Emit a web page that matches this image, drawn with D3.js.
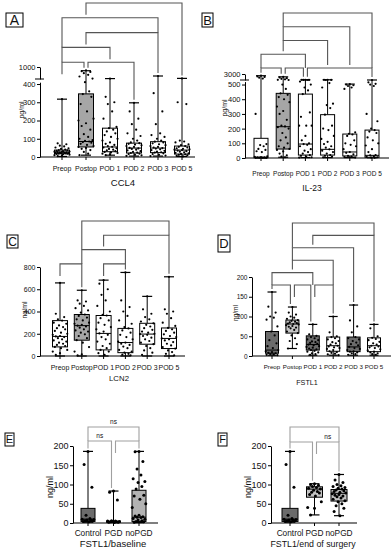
<!DOCTYPE html>
<html>
<head>
<meta charset="utf-8">
<script src="https://cdn.jsdelivr.net/npm/d3@7"></script>
<style>
  body { margin: 0; background: #fff; }
  svg text { font-family: "Liberation Sans", Arial, sans-serif; fill: #111; }
</style>
</head>
<body>
<svg id="fig" width="391" height="550"></svg>
<script>
// categories
const days = ["Preop", "Postop", "POD 1", "POD 2", "POD 3", "POD 5"];
const groups = ["Control", "PGD", "noPGD"];

// y tick labels
const ccl4Ticks = [0, 100, 200, 300, 400, 1000];
const il23Ticks = [0, 100, 200, 300, 400, 500, 3000];
const lcn2Ticks = [0, 200, 400, 600, 800];
const fstl1Ticks = [0, 50, 100, 150, 200];

// box stats per group: min, q1, median, q3, max
const ccl4Stats = [[3, 18, 27, 38, 317], [10, 55, 85, 346, 820], [10, 29, 55, 158, 440],
                   [5, 22, 49, 76, 297], [5, 24, 49, 84, 565], [3, 16, 38, 60, 450]];
const il23Stats = [[0, 2, 5, 134, 2290], [5, 61, 213, 440, 1830], [3, 20, 95, 435, 620],
                   [3, 20, 59, 295, 620], [3, 14, 41, 163, 503], [2, 5, 18, 190, 522]];
const lcn2Stats = [[0, 82, 176, 318, 657], [0, 142, 273, 373, 591], [0, 55, 203, 364, 682],
                   [0, 30, 121, 248, 751], [0, 106, 197, 294, 536], [0, 67, 158, 252, 712]];
const fstl1Stats = [[2, 7, 15, 62, 162], [19, 58, 81, 91, 124], [2, 15, 29, 51, 80],
                    [2, 12, 26, 48, 100], [2, 11, 23, 48, 129], [2, 11, 26, 46, 80]];
const baseStats = [[2, 4, 10, 38, 186], [1, 2, 3, 5, 83], [1, 4, 15, 85, 186]];
const endStats = [[2, 4, 10, 38, 186], [21, 67, 88, 94, 102], [19, 57, 77, 87, 126]];

// individual values
const ccl4Points = [
  [317, 75, 70, 62, 58, 52, 48, 44, 40, 38, 36, 34, 32, 30, 29, 28, 27, 26, 25, 24, 23, 22, 21, 20, 19, 18, 17, 15, 13, 10, 8, 5],
  [840, 800, 760, 700, 620, 540, 440, 410, 360, 345, 330, 290, 250, 210, 200, 185, 170, 150, 125, 110, 100, 92, 88, 85, 82, 78, 72, 66, 60, 55, 50, 45, 38, 28, 18, 10],
  [440, 330, 300, 290, 250, 210, 165, 158, 150, 140, 130, 120, 110, 100, 90, 80, 72, 66, 60, 56, 52, 48, 44, 40, 36, 32, 28, 25, 22, 18, 14, 10],
  [297, 250, 210, 180, 150, 130, 115, 100, 90, 80, 76, 72, 68, 64, 60, 55, 50, 47, 44, 40, 36, 32, 28, 24, 22, 19, 16, 12, 9, 6],
  [565, 350, 250, 180, 130, 120, 110, 100, 90, 84, 80, 75, 70, 65, 60, 55, 52, 49, 46, 42, 38, 34, 30, 26, 24, 20, 16, 12, 8, 5],
  [450, 300, 290, 90, 85, 80, 70, 65, 60, 56, 52, 48, 45, 42, 40, 38, 35, 32, 29, 26, 23, 20, 17, 15, 12, 9, 6, 3]
];
const il23Points = [
  [2290, 2000, 1800, 1500, 1100, 300, 95, 88, 80, 62, 55, 46, 40, 12, 8, 6, 5, 4, 3, 2, 1, 0],
  [1830, 1600, 1300, 1000, 800, 600, 540, 500, 470, 440, 430, 415, 400, 380, 350, 320, 300, 260, 220, 215, 210, 200, 170, 140, 120, 100, 80, 70, 62, 55, 45, 30, 18, 10, 5],
  [620, 600, 580, 560, 540, 520, 500, 480, 460, 435, 310, 280, 220, 220, 220, 150, 120, 100, 95, 90, 80, 60, 50, 40, 30, 20, 15, 10, 5, 3],
  [620, 600, 570, 540, 510, 480, 370, 360, 340, 295, 220, 200, 190, 150, 130, 110, 95, 80, 70, 59, 50, 40, 30, 20, 15, 10, 5],
  [503, 500, 495, 490, 480, 470, 175, 165, 160, 150, 120, 100, 90, 80, 60, 41, 35, 25, 14, 10, 6, 3],
  [522, 515, 505, 500, 490, 300, 250, 200, 190, 180, 170, 140, 120, 100, 85, 60, 40, 20, 18, 12, 8, 5, 3, 2]
];
const lcn2Points = [
  [657, 380, 350, 330, 318, 300, 290, 275, 260, 250, 240, 225, 210, 200, 190, 180, 176, 170, 160, 150, 140, 130, 120, 110, 100, 90, 82, 70, 55, 40, 25, 10],
  [591, 500, 490, 470, 450, 430, 410, 390, 373, 360, 345, 330, 320, 300, 290, 280, 273, 265, 255, 240, 230, 220, 210, 195, 180, 160, 142, 120, 80, 40, 15, 5],
  [682, 650, 600, 550, 500, 450, 400, 370, 364, 340, 320, 300, 280, 260, 240, 220, 203, 190, 170, 150, 130, 110, 90, 70, 55, 40, 25, 10],
  [751, 500, 440, 400, 360, 320, 290, 260, 248, 230, 210, 190, 170, 150, 130, 121, 110, 100, 85, 70, 55, 40, 30, 20, 12, 5],
  [536, 420, 380, 350, 330, 310, 294, 280, 265, 250, 235, 220, 210, 200, 197, 190, 180, 165, 150, 135, 120, 106, 90, 70, 50, 30, 10],
  [712, 420, 400, 380, 340, 300, 270, 252, 240, 225, 210, 195, 180, 170, 158, 150, 140, 125, 110, 95, 80, 67, 50, 35, 20, 5]
];
const fstl1Points = [
  [162, 125, 110, 100, 97, 92, 75, 62, 52, 40, 32, 25, 20, 15, 12, 10, 8, 7, 5, 4, 3, 2],
  [124, 110, 105, 100, 97, 94, 91, 89, 87, 85, 83, 82, 81, 80, 78, 76, 74, 72, 70, 66, 62, 58, 52, 45, 38, 30, 19],
  [80, 55, 51, 48, 45, 42, 40, 37, 35, 33, 31, 29, 27, 25, 23, 21, 19, 17, 15, 13, 11, 9, 7, 5, 3],
  [100, 60, 50, 48, 45, 42, 38, 35, 32, 29, 26, 24, 22, 20, 18, 15, 12, 10, 8, 6, 4, 2],
  [129, 90, 75, 60, 48, 45, 42, 38, 34, 30, 27, 23, 20, 18, 15, 12, 11, 9, 7, 5, 3],
  [80, 70, 50, 46, 43, 40, 36, 32, 29, 26, 24, 22, 20, 17, 14, 11, 9, 7, 5, 3]
];
const basePoints = [
  [186, 152, 93, 20, 12, 10, 9, 8, 7, 6, 5, 4, 3],
  [83, 80, 60, 6, 5, 5, 4, 4, 3, 3, 2, 2, 1],
  [186, 185, 160, 140, 125, 115, 108, 105, 95, 88, 72, 70, 62, 50, 40, 20, 18, 16, 15, 14, 12, 10, 8, 6, 4, 3, 2]
];
const endPoints = [
  [186, 152, 93, 20, 12, 10, 9, 8, 7, 6, 5, 4, 3],
  [102, 100, 98, 95, 92, 90, 88, 85, 82, 80, 78, 74, 70, 55, 40, 38, 21],
  [126, 112, 105, 100, 97, 95, 92, 90, 88, 86, 84, 82, 80, 78, 76, 74, 72, 70, 68, 65, 62, 58, 55, 50, 45, 38, 30, 19]
];

// comparison brackets, one list per row from top: [from, to, label]
const ccl4Brackets = [[[1, 5]], [[0, 4]], [[1, 4]], [[0, 2]], [[0, 1], [1, 3]]];
const il23Brackets = [[[1, 5]], [[1, 4]], [[1, 3]], [[0, 2]], [[0, 1], [1, 2], [2, 5]]];
const lcn2Brackets = [[[1, 5]], [[2, 5]], [[1, 3]], [[0, 1], [2, 3]]];
const fstl1Brackets = [[[1, 5]], [[2, 5]], [[1, 4]], [[1, 3]], [[0, 2]], [[0, 1], [1, 2], [2, 3]]];
const baseBrackets = [[[0, 2, "ns"]], [[0, 1, "ns"], [1, 2]]];
const endBrackets = [[[0, 2]], [[0, 1], [1, 2, "ns"]]];

var svg = d3.select("#fig");
var W = "#fff", G = "#a6a6a6", DK = "#6b6b6b", LG = "#c4c4c4";

var panels = [
  { letter: "A", title: "CCL4", unit: "pg/ml", cats: days, stats: ccl4Stats, pts: ccl4Points,
    brackets: ccl4Brackets, ticks: ccl4Ticks, fills: [W, G, W, W, W, W],
    ax: 40, axEnd: 195, c0: 62, c1: 182,
    low: [[0, 410], [157, 82.2]], high: [[420, 1000], [79, 67]],
    tickFont: 7.5, catFont: 7, catY: 170.5, title_: [123, 185.5, 9.5], unit_: [22, 110, 7],
    box: [6, 13, 17, 14, 14], br: [3, 14.8, "#555"], boxW: 15, capW: 10, r: 1.1, sp: 1.35 },
  { letter: "B", title: "IL-23", unit: "pg/ml", cats: days, stats: il23Stats, pts: il23Points,
    brackets: il23Brackets, ticks: il23Ticks, fills: [W, G, W, W, W, W],
    ax: 245, axEnd: 389, c0: 261, c1: 372,
    low: [[0, 520], [158, 81.6]], high: [[530, 3000], [80, 74]],
    tickFont: 7.5, catFont: 6.5, catY: 175.5, title_: [312, 190.5, 8.5], unit_: [225, 108, 7],
    box: [202, 13, 11, 14, 13], br: [13, 13.75, "#555"], boxW: 14, capW: 10, r: 1.1, sp: 1.2 },
  { letter: "C", title: "LCN2", unit: "ng/ml", cats: days, stats: lcn2Stats, pts: lcn2Points,
    brackets: lcn2Brackets, ticks: lcn2Ticks, fills: [W, G, W, W, W, W],
    ax: 40, axEnd: 185, c0: 60, c1: 169,
    low: [[0, 800], [356, 267]], high: null,
    tickFont: 7, catFont: 7, catY: 369.5, title_: [119, 381, 7.8], unit_: [25, 310, 7],
    box: [7, 235, 11, 13, 12], br: [221, 14.3, "#555"], boxW: 15, capW: 10, r: 1.1, sp: 1.3 },
  { letter: "D", title: "FSTL1", unit: "ng/ml", cats: days, stats: fstl1Stats, pts: fstl1Points,
    brackets: fstl1Brackets, ticks: fstl1Ticks, fills: [DK, LG, DK, W, DK, W],
    ax: 252, axEnd: 391, c0: 272, c1: 374,
    low: [[0, 200], [356, 277]], high: null,
    tickFont: 6.5, catFont: 6.2, catY: 369.3, title_: [307, 384.5, 7.2], unit_: [236, 313, 6.5],
    box: [218, 235, 12, 17, 13], br: [223, 12.4, "#555"], boxW: 13, capW: 9, r: 1.1, sp: 1.3 },
  { letter: "E", title: "FSTL1/baseline", unit: "ng/ml", cats: groups, stats: baseStats, pts: basePoints,
    brackets: baseBrackets, ticks: fstl1Ticks, fills: [DK, "#b3b3b3", "#b3b3b3"],
    ax: 73, axEnd: 158, c0: 88, c1: 139,
    low: [[0, 200], [523, 446]], high: null,
    tickFont: 9, catFont: 8.3, catY: 536, title_: [113, 546.5, 9.5], unit_: [50, 487, 9],
    box: [5, 433, 9, 13, 11], br: [427, 14, "#a0a0a0"], boxW: 14, capW: 10, r: 1.5, sp: 1.3 },
  { letter: "F", title: "FSTL1/end of surgery", unit: "ng/ml", cats: groups, stats: endStats, pts: endPoints,
    brackets: endBrackets, ticks: fstl1Ticks, fills: [DK, LG, LG],
    ax: 271, axEnd: 357, c0: 290, c1: 339,
    low: [[0, 200], [523, 446]], high: null,
    tickFont: 9, catFont: 8.3, catY: 536, title_: [313, 546.5, 8.8], unit_: [248, 487, 9],
    box: [218, 433, 9, 13, 11], br: [427, 15, "#a0a0a0"], boxW: 16, capW: 10, r: 1.5, sp: 1.15 }
];

// spread pattern for the dots inside a column
var spread = [0, -3, 3, -1.5, 1.5, -4.5, 4.5, -0.7, 2.2, -2.2, 3.7, -3.7, 0.7, 5.2, -5.2];

function drawPanel(p) {
  var g = svg.append("g");
  var x = d3.scalePoint().domain(p.cats).range([p.c0, p.c1]);
  var lo = d3.scaleLinear().domain(p.low[0]).range(p.low[1]);
  var hi = p.high ? d3.scaleLinear().domain(p.high[0]).range(p.high[1]) : null;
  var y = function (v) {
    if (!hi || v <= p.low[0][1]) return lo(v);
    return hi(Math.max(v, p.high[0][0]));
  };

  // y axis (broken where needed)
  var yl = g.append("g").attr("transform", "translate(" + p.ax + ",0)")
    .call(d3.axisLeft(lo).tickValues(p.ticks.filter(t => t <= p.low[0][1]))
      .tickFormat(d3.format("d")).tickSize(3).tickSizeOuter(0).tickPadding(1.5));
  var segs = [yl];
  if (hi) {
    var yh = g.append("g").attr("transform", "translate(" + p.ax + ",0)")
      .call(d3.axisLeft(hi).tickValues(p.ticks.filter(t => t > p.low[0][1]))
        .tickFormat(d3.format("d")).tickSize(3).tickSizeOuter(0).tickPadding(1.5));
    segs.push(yh);
    g.append("line")
      .attr("x1", p.ax - 5).attr("x2", p.ax + 4)
      .attr("y1", p.high[1][0]).attr("y2", p.high[1][0])
      .attr("stroke", "#000").attr("stroke-width", 1);
  }
  segs.forEach(s => {
    s.selectAll("path, line").attr("stroke", "#000").attr("stroke-width", 1);
    s.selectAll("text").style("font-size", p.tickFont + "px").attr("fill", "#111");
  });

  // x axis
  g.append("line").attr("x1", p.ax).attr("x2", p.axEnd)
    .attr("y1", p.low[1][0]).attr("y2", p.low[1][0])
    .attr("stroke", "#000").attr("stroke-width", 1.2);
  g.selectAll(".xt").data(p.cats).enter().append("line")
    .attr("x1", d => x(d)).attr("x2", d => x(d))
    .attr("y1", p.low[1][0]).attr("y2", p.low[1][0] + 3)
    .attr("stroke", "#000");
  g.selectAll(".xl").data(p.cats).enter().append("text")
    .attr("x", d => x(d)).attr("y", p.catY)
    .attr("text-anchor", "middle").style("font-size", p.catFont + "px")
    .text(d => d);

  // boxes and whiskers
  p.cats.forEach((c, i) => {
    var s = p.stats[i], cx = x(c), hw = p.boxW / 2, cw = p.capW / 2;
    g.append("line").attr("x1", cx).attr("x2", cx).attr("y1", y(s[4])).attr("y2", y(s[3]))
      .attr("stroke", "#000").attr("stroke-width", 1);
    g.append("line").attr("x1", cx).attr("x2", cx).attr("y1", y(s[1])).attr("y2", y(s[0]))
      .attr("stroke", "#000").attr("stroke-width", 1);
    [s[0], s[4]].forEach(v => {
      g.append("line").attr("x1", cx - cw).attr("x2", cx + cw).attr("y1", y(v)).attr("y2", y(v))
        .attr("stroke", "#000").attr("stroke-width", 1.2);
    });
    g.append("rect").attr("x", cx - hw).attr("width", p.boxW)
      .attr("y", y(s[3])).attr("height", Math.max(0.5, y(s[1]) - y(s[3])))
      .attr("fill", p.fills[i]).attr("stroke", "#000").attr("stroke-width", 1);
    g.append("line").attr("x1", cx - hw).attr("x2", cx + hw).attr("y1", y(s[2])).attr("y2", y(s[2]))
      .attr("stroke", "#000").attr("stroke-width", 1);

    // dots
    var vals = p.pts[i].slice().sort((a, b) => b - a);
    g.selectAll(".d" + i).data(vals).enter().append("circle")
      .attr("cx", (d, k) => cx + spread[k % spread.length] * p.boxW / 14 * p.sp)
      .attr("cy", d => y(d))
      .attr("r", p.r).attr("fill", "#000");
  });

  // brackets
  var rows = p.brackets, top = p.br[0], step = p.br[1];
  rows.forEach((row, r) => {
    var by = top + r * step;
    row.forEach(b => {
      var a = b[0], c = b[1];
      var shared = col => row.some(o => o !== b && (o[0] === col || o[1] === col));
      var xa = x(p.cats[a]) + (shared(a) ? 2 : 0);
      var xc = x(p.cats[c]) - (shared(c) ? 2 : 0);
      var legEnd = (col, isLeft) => {
        for (var k = r + 1; k < rows.length; k++) {
          var yk = top + k * step;
          if (rows[k].some(o => o[0] === col || o[1] === col)) return yk;
          if (rows[k].some(o => o[0] < col && col < o[1])) return yk - 3;
        }
        var cy = y(p.stats[col][4]) - 3;
        return isLeft ? Math.min(cy, by + 12) : cy;
      };
      g.append("path")
        .attr("d", "M" + xa + "," + legEnd(a, true) + "V" + by + "H" + xc + "V" + legEnd(c, false))
        .attr("fill", "none").attr("stroke", p.br[2]).attr("stroke-width", 1.1);
      if (b[2]) {
        g.append("text").attr("x", (xa + xc) / 2).attr("y", by - 3.5)
          .attr("text-anchor", "middle").style("font-size", "6.5px").attr("fill", "#444")
          .text(b[2]);
      }
    });
  });

  // titles
  g.append("text").attr("x", p.title_[0]).attr("y", p.title_[1])
    .attr("text-anchor", "middle").style("font-size", p.title_[2] + "px").text(p.title);
  g.append("text")
    .attr("transform", "translate(" + p.unit_[0] + "," + p.unit_[1] + ")rotate(-90)")
    .attr("text-anchor", "middle").attr("dy", "0.35em")
    .style("font-size", p.unit_[2] + "px").text(p.unit);

  // panel letter
  g.append("rect").attr("x", p.box[0]).attr("y", p.box[1])
    .attr("width", p.box[2]).attr("height", p.box[3])
    .attr("fill", "none").attr("stroke", "#000").attr("stroke-width", 1);
  g.append("text").attr("x", p.box[0] + p.box[2] / 2).attr("y", p.box[1] + p.box[3] / 2)
    .attr("dy", "0.36em").attr("text-anchor", "middle")
    .style("font-size", p.box[4] + "px").text(p.letter);
}

panels.forEach(drawPanel);
</script>
</body>
</html>
